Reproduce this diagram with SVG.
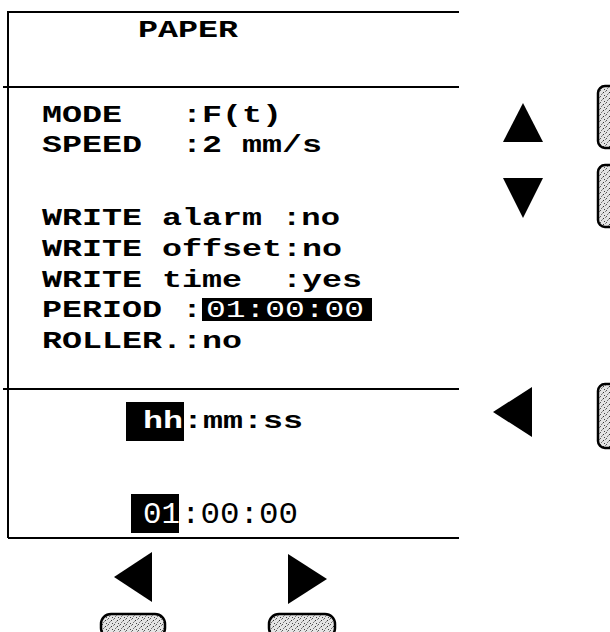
<svg xmlns="http://www.w3.org/2000/svg" width="610" height="632" viewBox="0 0 610 632">
  <defs>
    <pattern id="speckle" width="6" height="6" patternUnits="userSpaceOnUse">
      <rect width="6" height="6" fill="#e4e4e4"/>
      <rect x="0" y="0" width="1" height="1" fill="#555"/>
      <rect x="3" y="2" width="1" height="1" fill="#333"/>
      <rect x="1" y="4" width="1" height="1" fill="#777"/>
      <rect x="4" y="5" width="1" height="1" fill="#444"/>
      <rect x="5" y="1" width="1" height="1" fill="#888"/>
      <rect x="2" y="3" width="1" height="1" fill="#999"/>
    </pattern>
  </defs>
  <style>
    .ln { stroke: #000; stroke-width: 2; fill: none; }
    .t { font-family: "Liberation Mono", "DejaVu Sans Mono", monospace; font-weight: bold; font-size: 23px; fill: #000; }
    .d { font-family: "Liberation Mono", "DejaVu Sans Mono", monospace; font-weight: normal; fill: #000; }
    .w { fill: #fff; }
    .hl { fill: #000; }
    .tri { fill: #000; }
    .key { fill: url(#speckle); stroke: #000; stroke-width: 2.5; }
  </style>
  <rect width="610" height="632" fill="#fff"/>

  <g id="panel">
    <line class="ln" x1="8" y1="12" x2="459" y2="12"/>
    <line class="ln" x1="8" y1="11" x2="8" y2="538"/>
    <line class="ln" x1="3" y1="87" x2="459" y2="87"/>
    <line class="ln" x1="3" y1="389" x2="459" y2="389"/>
    <line class="ln" x1="8" y1="538" x2="459" y2="538"/>
  </g>

  <g id="title">
    <text class="t" x="138" y="37" textLength="100" lengthAdjust="spacingAndGlyphs">PAPER</text>
  </g>

  <g id="settings">
    <text class="t" x="42" y="122" textLength="80" lengthAdjust="spacingAndGlyphs">MODE</text>
    <text class="t" x="182" y="122" textLength="100" lengthAdjust="spacingAndGlyphs">:F(t)</text>
    <text class="t" x="42" y="152" textLength="100" lengthAdjust="spacingAndGlyphs">SPEED</text>
    <text class="t" x="182" y="152" textLength="140" lengthAdjust="spacingAndGlyphs">:2 mm/s</text>
    <text class="t" x="42" y="225" textLength="220" lengthAdjust="spacingAndGlyphs">WRITE alarm</text>
    <text class="t" x="282" y="225" textLength="58" lengthAdjust="spacingAndGlyphs">:no</text>
    <text class="t" x="42" y="256" textLength="300" lengthAdjust="spacingAndGlyphs">WRITE offset:no</text>
    <text class="t" x="42" y="287" textLength="200" lengthAdjust="spacingAndGlyphs">WRITE time</text>
    <text class="t" x="282" y="287" textLength="80" lengthAdjust="spacingAndGlyphs">:yes</text>
    <text class="t" x="42" y="317" textLength="160" lengthAdjust="spacingAndGlyphs">PERIOD :</text>
    <rect class="hl" x="202" y="298" width="170" height="23"/>
    <text class="d w" x="206" y="317" font-size="23" textLength="158" lengthAdjust="spacingAndGlyphs">01:00:00</text>
    <text class="t" x="42" y="348" textLength="200" lengthAdjust="spacingAndGlyphs">ROLLER.:no</text>
  </g>

  <g id="format">
    <rect class="hl" x="126" y="402" width="58" height="39"/>
    <text class="t w" x="143" y="428" textLength="40" lengthAdjust="spacingAndGlyphs">hh</text>
    <text class="t" x="183" y="428" textLength="120" lengthAdjust="spacingAndGlyphs">:mm:ss</text>
  </g>

  <g id="value">
    <rect class="hl" x="131" y="494" width="48" height="39"/>
    <text class="d w" x="143" y="523" font-size="29" textLength="37" lengthAdjust="spacingAndGlyphs">01</text>
    <text class="d" x="181" y="523" font-size="29" textLength="117" lengthAdjust="spacingAndGlyphs">:00:00</text>
  </g>

  <g id="key-up">
    <polygon class="tri" points="523,103 543,142 503,142"/>
    <rect class="key" x="598" y="86" width="24" height="62" rx="7"/>
  </g>
  <g id="key-down">
    <polygon class="tri" points="503,178 543,178 523,218"/>
    <rect class="key" x="598" y="165" width="24" height="62" rx="7"/>
  </g>
  <g id="key-left-right">
    <polygon class="tri" points="493,412 532,387 532,437"/>
    <rect class="key" x="598" y="384" width="24" height="64" rx="7"/>
  </g>
  <g id="key-left-bottom">
    <polygon class="tri" points="114,577 152,552 152,602"/>
    <rect class="key" x="101" y="614" width="64" height="24" rx="10"/>
  </g>
  <g id="key-right-bottom">
    <polygon class="tri" points="327,579 288,554 288,604"/>
    <rect class="key" x="269" y="614" width="66" height="24" rx="10"/>
  </g>
</svg>
